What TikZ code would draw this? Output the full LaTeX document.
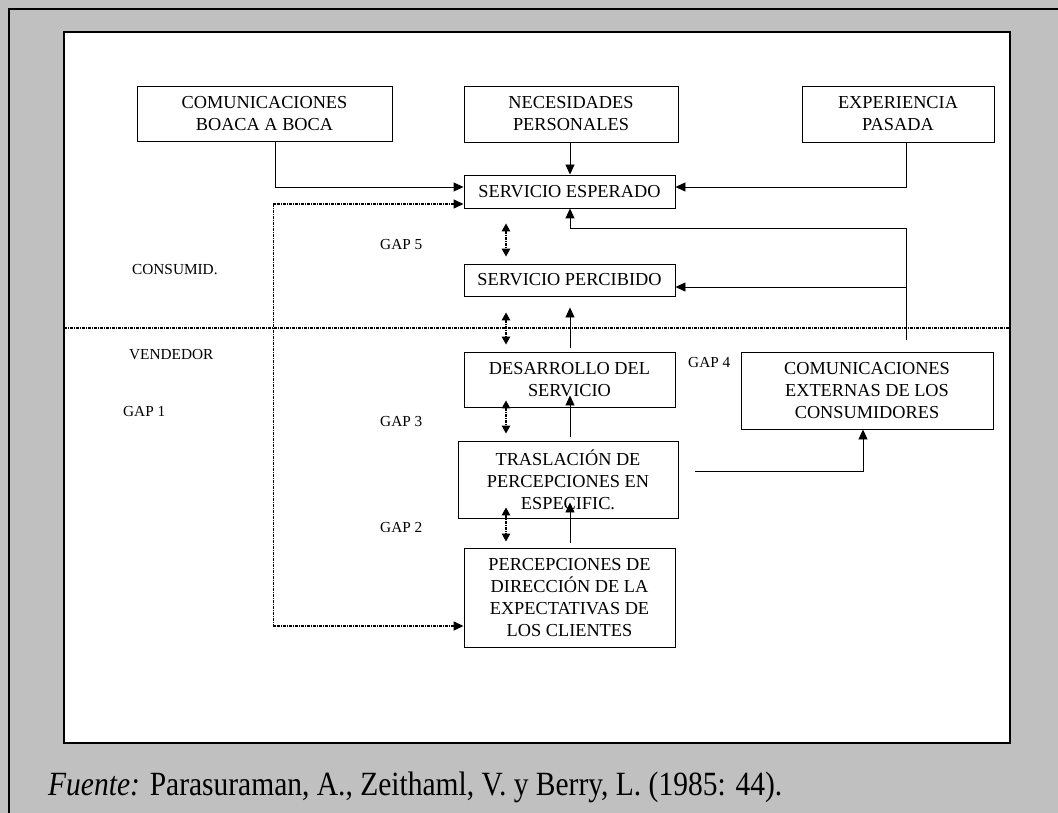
\documentclass[tikz,border=0pt]{standalone}
\usepackage{fontspec}
\setmainfont{Liberation Serif}
\usetikzlibrary{arrows.meta,calc}
\definecolor{framegray}{RGB}{192,192,192}

\begin{document}
\begin{tikzpicture}[x=1pt,y=-1pt,
  box/.style={draw, line width=0.9pt, inner sep=0pt, align=center,
              font=\fontsize{18.3}{22}\selectfont},
  lbl/.style={inner sep=0pt, anchor=west, font=\fontsize{15.3}{18}\selectfont},
  arr/.style={line width=0.9pt, -{Triangle[length=10pt,width=9pt]}},
  dd/.style={line width=1.4pt, dash pattern=on 3pt off 1pt on 1pt off 1pt},
  gaparr/.style={dd, {Triangle[length=8pt,width=8.5pt]}-{Triangle[length=8pt,width=8.5pt]}},
  loop/.style={dd, {Triangle[length=10pt,width=9pt]}-{Triangle[length=10pt,width=9pt]}},
]
\useasboundingbox (0,0) rectangle (1058,813);
% page frame
\fill[framegray] (0,0) rectangle (1058,813);
\draw[line width=2pt] (9,813) -- (9,9) -- (1058,9);
\filldraw[fill=white, line width=2.5pt] (64,32) rectangle (1010,743);

% boxes
\node[box, minimum width=255pt, minimum height=55pt] (boca)   at (264.5,113.5) {COMUNICACIONES\\BOACA A BOCA};
\node[box, minimum width=214pt, minimum height=56pt] (neces)  at (571,114)     {NECESIDADES\\PERSONALES};
\node[box, minimum width=192pt, minimum height=56pt] (exper)  at (898,114)     {EXPERIENCIA\\PASADA};
\node[box, minimum width=211pt, minimum height=33pt] (esper)  at (569.5,191.5) {SERVICIO ESPERADO};
\node[box, minimum width=211pt, minimum height=32pt] (percib) at (569.5,280)   {SERVICIO PERCIBIDO};
\node[box, minimum width=211pt, minimum height=55pt] (desarr) at (569.5,379.5) {DESARROLLO DEL\\SERVICIO};
\node[box, minimum width=220pt, minimum height=77pt] (trasl)  at (568,479.5)   {TRASLACIÓN DE\\PERCEPCIONES EN\\ESPECIFIC.};
\node[box, minimum width=211pt, minimum height=99pt] (percep) at (569.5,597.5) {PERCEPCIONES DE\\DIRECCIÓN DE LA\\EXPECTATIVAS DE\\LOS CLIENTES};
\node[box, minimum width=252pt, minimum height=77pt] (ext)    at (867,390.5)   {COMUNICACIONES\\EXTERNAS DE LOS\\CONSUMIDORES};

% side labels
\node[lbl] (lcons) at (132,270) {CONSUMID.};
\node[lbl] (lvend) at (129,355) {VENDEDOR};
\node[lbl] (g1) at (123,412) {GAP 1};
\node[lbl] (g5) at (380,245) {GAP 5};
\node[lbl] (g3) at (380,422) {GAP 3};
\node[lbl] (g2) at (380,528) {GAP 2};
\node[lbl] (g4) at (688,363) {GAP 4};

% consumer / provider divide
\draw[dd] (64,328) -- (1010,328);

\coordinate (gx) at (506,0);
\coordinate (sx) at (570,0);

% inputs to the expected service
\draw[arr] ([xshift=10.5pt]boca.south) |- ([yshift=4.5pt]esper.west);
\draw[arr] (neces.south -| sx) -- (esper.north -| sx);
\draw[arr] ([xshift=8pt]exper.south) |- ([yshift=4.5pt]esper.east);

% external communications
\draw[arr] ([xshift=39pt,yshift=12pt]ext.north) |- ($(esper.south -| sx)+(0,20)$) -- (esper.south -| sx);
\draw[arr] ([xshift=39pt,yshift=-7pt]ext.north |- percib.east) -- ([yshift=-7pt]percib.east);
\draw[arr, shorten <=17pt] ([yshift=8.5pt]trasl.east) -| ([xshift=-4pt]ext.south);

% flow upwards through the provider
\draw[arr, shorten <=5pt, shorten >=-16pt] (percep.north -| sx) -- (trasl.south -| sx);
\draw[arr, shorten <=4pt, shorten >=-12pt] (trasl.north -| sx) -- (desarr.south -| sx);
\draw[arr, shorten <=4pt, shorten >=11pt]  (desarr.north -| sx) -- (percib.south -| sx);

% gaps
\draw[gaparr, shorten <=15pt, shorten >=7pt]  (esper.south -| gx)  -- (percib.north -| gx);
\draw[gaparr, shorten <=16pt, shorten >=7pt]  (percib.south -| gx) -- (desarr.north -| gx);
\draw[gaparr, shorten <=-7pt, shorten >=7pt]  (desarr.south -| gx) -- (trasl.north -| gx);
\draw[gaparr, shorten <=-11pt, shorten >=6pt] (trasl.south -| gx)  -- (percep.north -| gx);
\draw[loop] ([yshift=-12.5pt]esper.west) -- ++(-190,0) |- ([yshift=-28.5pt]percep.west);

% source
\node[anchor=base west, inner sep=0pt, font=\fontsize{29.5}{32}\selectfont] (src) at (48,795)
  {\scalebox{1}[1.15]{\textit{Fuente:} Parasuraman, A., Zeithaml, V. y Berry, L. (1985: 44).}};
\end{tikzpicture}
\end{document}
